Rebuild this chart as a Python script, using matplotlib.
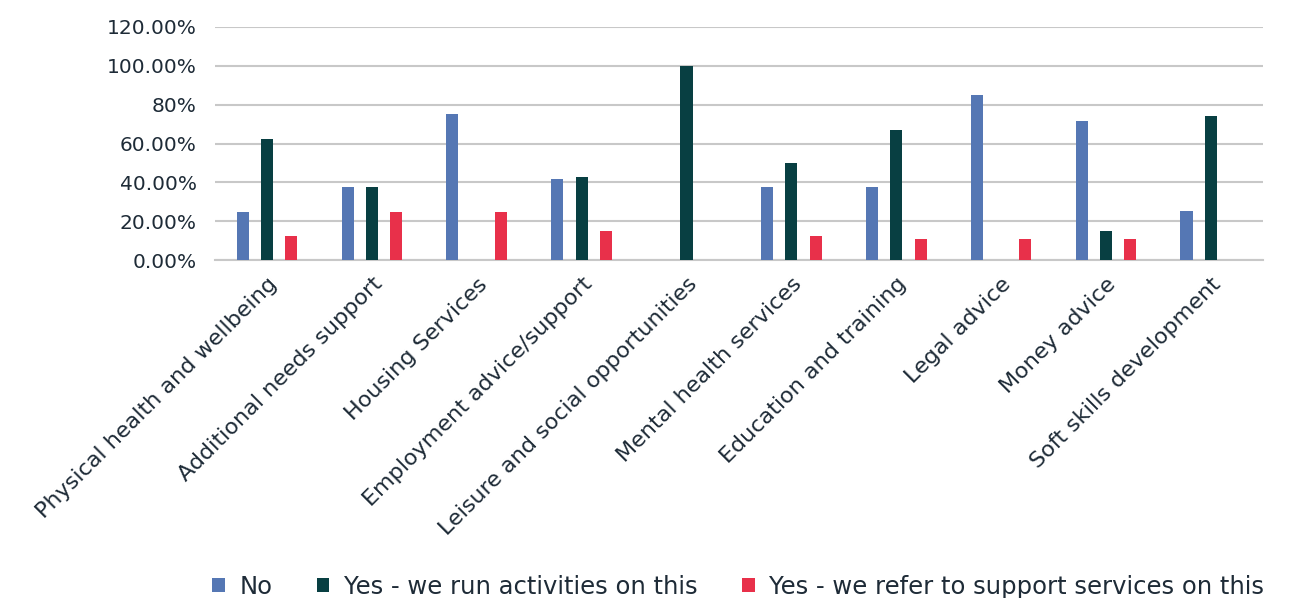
import numpy as np
import matplotlib
matplotlib.use("Agg")
import matplotlib.pyplot as plt

categories = ["Physical health and wellbeing", "Additional needs support", "Housing Services",
              "Employment advice/support", "Leisure and social opportunities", "Mental health services",
              "Education and training", "Legal advice", "Money advice", "Soft skills development"]
no_vals = [25.0, 37.5, 75.0, 42.0, 0.0, 37.5, 37.5, 85.0, 71.4, 25.5]
run_vals = [62.5, 37.5, 0.0, 43.0, 100.0, 50.0, 66.7, 0.0, 15.0, 74.0]
refer_vals = [12.5, 25.0, 25.0, 15.0, 0.0, 12.5, 11.1, 11.1, 11.1, 0.0]
series_names = ["No", "Yes - we run activities on this", "Yes - we refer to support services on this"]
y_ticks = [0, 20, 40, 60, 80, 100, 120]
y_tick_labels = ["0.00%", "20.00%", "40.00%", "60.00%", "80%", "100.00%", "120.00%"]

colors = ["#5577b4", "#083f42", "#e8304a"]
text_color = "#1e2b37"
plt.rcParams["font.family"] = ["DejaVu Sans"]

fig = plt.figure(figsize=(12.93, 5.98), dpi=100)
ax = fig.add_axes([0.166, 0.565, 0.811, 0.39])

x = np.arange(len(categories))
width = 0.115
offset = 0.232
for i, (vals, name) in enumerate(zip([no_vals, run_vals, refer_vals], series_names)):
    ax.bar(x + (i - 1) * offset, vals, width, color=colors[i], label=name, zorder=3)

ax.set_xlim(-0.5, len(categories) - 0.5)
ax.set_ylim(0, 120)
ax.set_yticks(y_ticks)
ax.set_yticklabels(y_tick_labels, fontsize=14.5, color=text_color)
ax.set_xticks(x)
ax.set_xticklabels(categories, rotation=45, ha="right", rotation_mode="anchor",
                   fontsize=16, color=text_color)
ax.tick_params(axis="y", length=0, pad=13)
ax.tick_params(axis="x", length=0, pad=10)
ax.yaxis.grid(True, color="#c8c8c8", linewidth=1.5, zorder=0)
for s in ["top", "right", "left"]:
    ax.spines[s].set_visible(False)
ax.spines["bottom"].set_color("#c8c8c8")
ax.spines["bottom"].set_linewidth(1.5)

fig.legend(loc="lower center", bbox_to_anchor=(0.571, -0.038), ncol=3, frameon=False,
           fontsize=17.5, handlelength=0.5, handleheight=0.5, handletextpad=0.6,
           columnspacing=1.85, labelcolor=text_color)

fig.savefig("out.png", dpi=100)
